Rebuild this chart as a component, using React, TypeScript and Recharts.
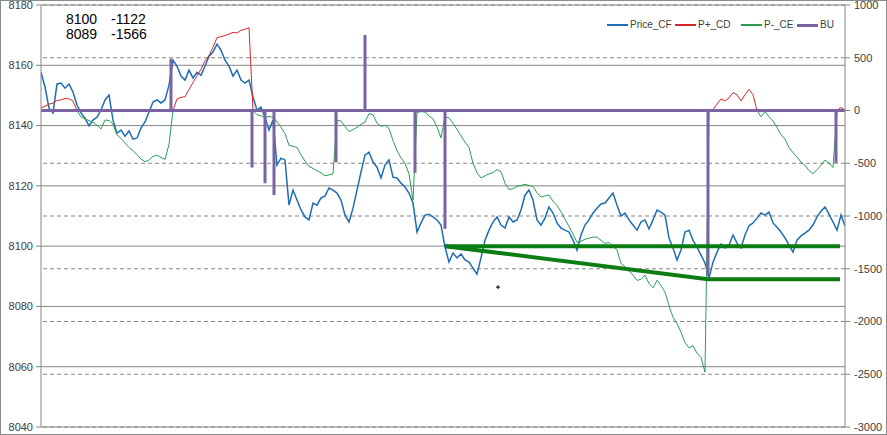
import React from 'react';
import { ComposedChart, Line, XAxis, YAxis, ReferenceLine, ReferenceDot } from 'recharts';

// Price_CF (left axis)
const priceCF = [
  8157.7, 8152.8, 8145.8, 8144.2, 8153.8, 8154.1, 8152.4, 8153.8, 8151.1, 8146.8,
  8144.2, 8142.5, 8139.9, 8141.8, 8142.8, 8145.1, 8148.5, 8150.1, 8141.8, 8137.5,
  8138.5, 8136.5, 8138.2, 8135.5, 8135.9, 8139.2, 8141.2, 8144.5, 8147.8, 8148.5,
  8147.5, 8148.5, 8153.4, 8161.7, 8159.7, 8156.4, 8155.1, 8158.4, 8155.8, 8157.7,
  8156.7, 8159.7, 8163.0, 8164.4, 8167.0, 8165.0, 8161.7, 8159.7, 8156.4, 8158.4,
  8155.1, 8154.1, 8155.1, 8149.5, 8145.1, 8146.1, 8142.8, 8138.5, 8141.8, 8126.9,
  8129.2, 8128.6, 8113.6, 8118.6, 8115.3, 8112.0, 8109.7, 8108.7, 8114.3, 8113.6,
  8116.0, 8116.6, 8119.3, 8118.6, 8117.6, 8115.3, 8110.3, 8108.0, 8112.6, 8118.6,
  8124.6, 8130.2, 8131.2, 8127.9, 8126.2, 8122.6, 8126.9, 8128.6, 8122.9, 8122.6,
  8120.9, 8119.6, 8117.6, 8114.3, 8104.7, 8107.7, 8110.3, 8110.6, 8109.7, 8108.7,
  8107.0, 8099.7, 8094.7, 8097.7, 8096.1, 8097.4, 8095.4, 8094.7, 8092.7, 8090.7,
  8096.1, 8102.0, 8105.3, 8108.0, 8109.7, 8107.0, 8106.0, 8109.7, 8108.0, 8108.7,
  8112.0, 8116.9, 8118.6, 8115.3, 8108.7, 8107.0, 8109.3, 8113.0, 8111.0, 8107.7,
  8106.0, 8105.3, 8104.7, 8102.0, 8098.7, 8103.7, 8107.0, 8108.7, 8111.0, 8112.6,
  8114.0, 8114.3, 8116.0, 8117.6, 8113.6, 8110.0, 8111.0, 8108.7, 8107.0, 8105.3,
  8108.0, 8108.7, 8105.7, 8108.7, 8112.0, 8111.3, 8110.3, 8102.7, 8099.4, 8095.4,
  8098.7, 8104.7, 8105.3, 8102.0, 8099.7, 8097.0, 8094.4, 8089.4, 8094.7, 8098.0,
  8100.7, 8099.4, 8100.4, 8103.7, 8101.0, 8099.4, 8103.7, 8106.7, 8107.7, 8109.3,
  8111.0, 8110.3, 8111.3, 8107.7, 8106.3, 8104.7, 8102.7, 8100.4, 8098.0, 8102.0,
  8103.4, 8104.3, 8105.3, 8107.0, 8109.7, 8111.6, 8113.0, 8110.6, 8108.0, 8105.3,
  8110.3, 8106.7,
];

// P (right axis): positive part drawn as P+_CD, negative part as P-_CE
const pValues = [
  25, 40, 60, 70, 95, 100, 115, 110, 90, 0,
  -60, -80, -95, -110, -140, -175, -90, -95, -130, -230,
  -265, -310, -350, -380, -420, -460, -485, -470, -435, -425,
  -445, -465, -320, 0, 110, 125, 130, 200, 265, 330,
  390, 470, 520, 600, 690, 700, 710, 725, 740, 735,
  760, 770, 785, 0, -40, -50, -70, -55, -65, -110,
  -160, -220, -330, -340, -350, -420, -480, -530, -550, -570,
  -590, -620, -610, -600, -90, -100, -150, -200, -180, -160,
  -130, -110, -30, -40, -120, -150, -140, -170, -285, -380,
  -450, -500, -600, -850, -20, -10, -15, -50, -80, -155,
  -260, -60, -70, -120, -180, -240, -300, -350, -500, -590,
  -640, -620, -600, -590, -560, -580, -690, -750, -740, -720,
  -710, -700, -710, -720, -780, -820, -810, -800, -860, -900,
  -960, -1030, -1100, -1170, -1250, -1240, -1220, -1210, -1200, -1200,
  -1230, -1260, -1250, -1290, -1320, -1450, -1480, -1520, -1560, -1610,
  -1600, -1560, -1640, -1680, -1610, -1660, -1720, -1850, -1960, -2020,
  -2100, -2200, -2250, -2230, -2300, -2340, -2480, 0, 10, 60,
  110, 90, 120, 170, 150, 90, 150, 200, 150, 0,
  -60, -10, -60, -100, -160, -230, -270, -350, -400, -440,
  -490, -520, -570, -600, -560, -520, -470, -500, -540, 0,
  30, 0,
];

// BU (right axis): zero with spikes
const buSpikeAt = [32.5, 52.75, 56, 58.25, 73.75, 81, 93.5, 101, 166.75, 198.75];
const buSpikeValue = [490, -540, -690, -800, -490, 715, -590, -1122, -1566, -495];

// Annotation levels (left axis)
const flatX = [101, 199.75];
const flatY = [8100, 8100];
const trendX = [101, 166.75, 199.75];
const trendY = [8100, 8089, 8089];
const notePrice = ['8100', '8089'];
const noteBU = ['-1122', '-1566'];
const markX = 114.25;
const markY = 8086.4;

const leftTicks = [8040, 8060, 8080, 8100, 8120, 8140, 8160, 8180];
const rightTicks = [-3000, -2500, -2000, -1500, -1000, -500, 0, 500, 1000];

const seriesNames = ['Price_CF', 'P+_CD', 'P-_CE', 'BU'];
const seriesColors = ['#1f6db3', '#d8262a', '#2a9d55', '#7b62a0'];
const legendLeft = [607, 675, 741, 797];

const rows = priceCF.map((price, i) => ({
  x: i,
  price,
  pPlus: pValues[i] >= 0 ? pValues[i] : null,
  pMinus: pValues[i] <= 0 ? pValues[i] : null,
}));

const lastX = priceCF.length - 1;
const buRows: { x: number; bu: number }[] = [{ x: 0, bu: 0 }];
buSpikeAt.forEach((s, k) => {
  buRows.push({ x: s, bu: 0 }, { x: s, bu: buSpikeValue[k] }, { x: s, bu: 0 });
});
buRows.push({ x: lastX, bu: 0 });

const flatRows = flatX.map((x, k) => ({ x, level: flatY[k] }));
const trendRows = trendX.map((x, k) => ({ x, level: trendY[k] }));

const FONT = '"Liberation Sans", Arial, sans-serif';
const axisTick = { fill: '#404040', fontSize: 11, fontFamily: FONT };

export default function App() {
  return (
    <div style={{ position: 'absolute', left: 0, top: 0, width: 887, height: 435, background: '#fff', fontFamily: FONT }}>
      <ComposedChart width={887} height={435} data={rows} margin={{ top: 5, right: 0, bottom: 8, left: 0 }}>
        <XAxis type="number" dataKey="x" domain={[0, lastX]} hide allowDataOverflow />
        <YAxis
          yAxisId="left"
          orientation="left"
          domain={[8040, 8180]}
          ticks={leftTicks}
          interval={0}
          width={41}
          tickSize={5}
          tickMargin={3}
          axisLine={{ stroke: '#868686' }}
          tickLine={{ stroke: '#868686' }}
          tick={axisTick}
          allowDataOverflow
        />
        <YAxis
          yAxisId="right"
          orientation="right"
          domain={[-3000, 1000]}
          ticks={rightTicks}
          interval={0}
          width={42}
          tickSize={5}
          tickMargin={4}
          axisLine={{ stroke: '#868686' }}
          tickLine={{ stroke: '#868686' }}
          tick={axisTick}
          allowDataOverflow
        />
        {leftTicks.map((t) => (
          <ReferenceLine key={'l' + t} yAxisId="left" y={t} stroke="#868686" strokeWidth={1} ifOverflow="extendDomain" />
        ))}
        {rightTicks.map((t) => (
          <ReferenceLine key={'r' + t} yAxisId="right" y={t} stroke="#868686" strokeWidth={1} strokeDasharray="4 3" ifOverflow="extendDomain" />
        ))}
        <Line yAxisId="left" dataKey="price" name={seriesNames[0]} stroke={seriesColors[0]} strokeWidth={1.5} dot={false} activeDot={false} isAnimationActive={false} type="linear" />
        <Line yAxisId="right" dataKey="pPlus" name={seriesNames[1]} stroke={seriesColors[1]} strokeWidth={1} dot={false} activeDot={false} isAnimationActive={false} type="linear" />
        <Line yAxisId="right" dataKey="pMinus" name={seriesNames[2]} stroke={seriesColors[2]} strokeWidth={1} dot={false} activeDot={false} isAnimationActive={false} type="linear" />
        <Line yAxisId="right" data={buRows} dataKey="bu" name={seriesNames[3]} stroke={seriesColors[3]} strokeWidth={3} dot={false} activeDot={false} isAnimationActive={false} type="linear" />
        <Line yAxisId="left" data={flatRows} dataKey="level" stroke="#0b7d12" strokeWidth={4} dot={false} activeDot={false} isAnimationActive={false} type="linear" legendType="none" />
        <Line yAxisId="left" data={trendRows} dataKey="level" stroke="#0b7d12" strokeWidth={4} dot={false} activeDot={false} isAnimationActive={false} type="linear" legendType="none" />
        <ReferenceDot
          yAxisId="left"
          x={markX}
          y={markY}
          r={2}
          shape={(p: any) => (
            <path d={`M${p.cx - 2},${p.cy}h4M${p.cx},${p.cy - 2}v4`} stroke="#000" strokeWidth={1} />
          )}
        />
      </ComposedChart>

      {/* annotation text */}
      {notePrice.map((t, k) => (
        <React.Fragment key={t}>
          <div style={{ position: 'absolute', left: 66, top: 12 + k * 15, fontSize: 14, lineHeight: '14px', color: '#000' }}>{t}</div>
          <div style={{ position: 'absolute', left: 111, top: 12 + k * 15, fontSize: 14, lineHeight: '14px', color: '#000' }}>{noteBU[k]}</div>
        </React.Fragment>
      ))}

      {/* legend */}
      {seriesNames.map((n, k) => (
        <div key={n} style={{ position: 'absolute', left: legendLeft[k], top: 19, display: 'flex', alignItems: 'center', fontSize: 10, lineHeight: '12px', color: '#404040', whiteSpace: 'nowrap' }}>
          <div style={{ width: 21, height: k === 3 ? 3 : 1.5, background: seriesColors[k], marginRight: 2 }} />
          <span>{n}</span>
        </div>
      ))}

      {/* chart border */}
      <div style={{ position: 'absolute', left: 0, top: 0, width: 887, height: 435, boxSizing: 'border-box', border: '1px solid #8a8a8a', pointerEvents: 'none' }} />
    </div>
  );
}
